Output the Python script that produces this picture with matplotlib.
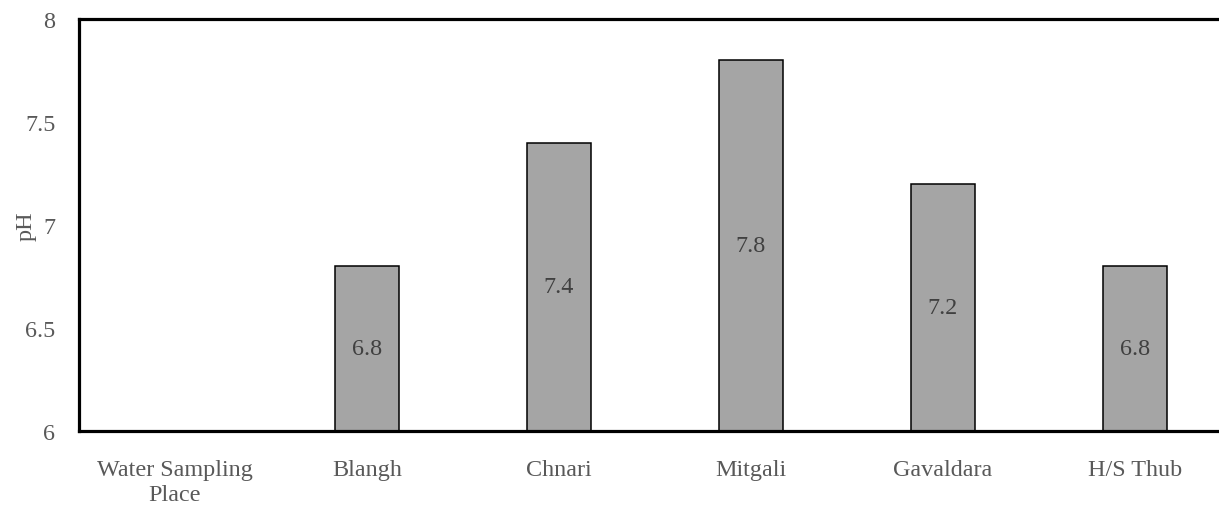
import numpy as np
import matplotlib
matplotlib.use("Agg")
import matplotlib.pyplot as plt

# Sampling sites and measured pH
places = ["Water Sampling\nPlace", "Blangh", "Chnari", "Mitgali", "Gavaldara", "H/S Thub"]
ph_values = [np.nan, 6.8, 7.4, 7.8, 7.2, 6.8]
y_ticks = [6, 6.5, 7, 7.5, 8]
y_tick_labels = ["6", "6.5", "7", "7.5", "8"]

plt.rcParams["font.family"] = ["Liberation Serif", "DejaVu Serif"]
text_gray = "#595959"
fs = 17.4

fig = plt.figure(figsize=(12.19, 5.06), dpi=100)
ax = fig.add_axes([79 / 1219, 1 - 432 / 506, 1152 / 1219, (432 - 20) / 506])

x = np.arange(len(places))
heights = [0 if np.isnan(v) else v for v in ph_values]
ax.bar(x, heights, width=0.333, color="#a5a5a5", edgecolor="black", linewidth=1.1, zorder=2)

for xi, v in zip(x, ph_values):
    if np.isnan(v):
        continue
    ax.text(xi, (6 + v) / 2, f"{v:g}", ha="center", va="center",
            fontsize=fs, color="#404040", zorder=3)

ax.set_xlim(-0.5, len(places) - 0.5)
ax.set_ylim(6, 8)
ax.set_yticks(y_ticks)
ax.set_yticklabels(y_tick_labels)
ax.set_xticks(x)
ax.set_xticklabels(places, linespacing=1.25)
ax.tick_params(axis="both", length=0, labelsize=fs, labelcolor=text_gray)
ax.tick_params(axis="y", pad=17)
ax.tick_params(axis="x", pad=20)

ax.set_ylabel("pH", fontsize=fs, color=text_gray)
ax.yaxis.set_label_coords(-42 / 1152, 0.5)

for side in ["left", "top", "bottom"]:
    ax.spines[side].set_linewidth(2.3)
    ax.spines[side].set_color("black")
    ax.spines[side].set_zorder(4)
ax.spines["right"].set_visible(False)

fig.savefig("out.png", dpi=100)
